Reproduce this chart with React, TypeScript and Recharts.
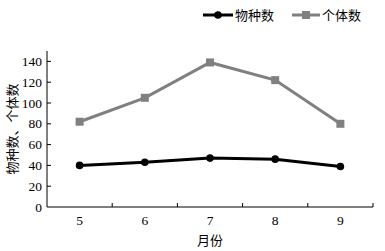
import React from "react";
import { LineChart, Line, XAxis, YAxis, Legend } from "recharts";

const months = ["5", "6", "7", "8", "9"];
const speciesCounts = [40, 43, 47, 46, 39];
const individualCounts = [82, 105, 139, 122, 80];
const yTicks = [0, 20, 40, 60, 80, 100, 120, 140];

const data = months.map((m, i) => ({
  month: m,
  species: speciesCounts[i],
  individuals: individualCounts[i],
}));

const W = 385;
const H = 251;
const LEFT = 47;
const TOP = 27;
const RIGHT = 373;
const BOTTOM = 207;
const BAND = (RIGHT - LEFT) / months.length;
const FONT = '"Liberation Serif", "DejaVu Serif", serif';
const CJK = '"Noto Sans CJK SC", sans-serif';
const GRAY = "#808080";

const XTick = (props: any) => {
  const { x, payload } = props;
  return (
    <g>
      <line x1={x + BAND / 2} x2={x + BAND / 2} y1={BOTTOM} y2={BOTTOM - 4} stroke="#000" strokeWidth={1} />
      <text x={x} y={225} textAnchor="middle" style={{ fontFamily: FONT, fontSize: 13.5 }} fill="#000">
        {payload.value}
      </text>
    </g>
  );
};

const YTick = (props: any) => {
  const { y, payload } = props;
  return (
    <g>
      {payload.value !== 0 && (
        <line x1={LEFT} x2={LEFT + 4} y1={y} y2={y} stroke="#000" strokeWidth={1} />
      )}
      <text x={42} y={y + 4.5} textAnchor="end" style={{ fontFamily: FONT, fontSize: 13.5 }} fill="#000">
        {payload.value}
      </text>
    </g>
  );
};

const SquareDot = (props: any) => {
  const { cx, cy, index } = props;
  return <rect key={`sq-${index}`} x={cx - 4} y={cy - 4} width={8} height={8} fill={GRAY} />;
};

const CircleDot = (props: any) => {
  const { cx, cy, index } = props;
  return <circle key={`ci-${index}`} cx={cx} cy={cy} r={3.8} fill="#000" />;
};

const LegendContent = () => (
  <svg width={W} height={24} style={{ display: "block" }}>
    <line x1={203} x2={233} y1={15} y2={15} stroke="#000" strokeWidth={3} />
    <circle cx={218} cy={15} r={3.8} fill="#000" />
    <text x={235} y={20} style={{ fontFamily: CJK, fontSize: 13 }} fill="#000">物种数</text>
    <line x1={292} x2={320} y1={15} y2={15} stroke={GRAY} strokeWidth={3} />
    <rect x={302} y={11} width={8} height={8} fill={GRAY} />
    <text x={322} y={20} style={{ fontFamily: CJK, fontSize: 13 }} fill="#000">个体数</text>
  </svg>
);

export default function App() {
  return (
    <div style={{ position: "absolute", left: 0, top: 0, width: W, height: H, background: "#fff" }}>
      <LineChart width={W} height={H} data={data} margin={{ top: TOP, right: W - RIGHT, bottom: 0, left: 0 }}>
        <Legend
          verticalAlign="top"
          content={<LegendContent />}
          wrapperStyle={{ position: "absolute", top: 0, left: 0, width: W, height: 24 }}
        />
        <XAxis
          dataKey="month"
          scale="band"
          height={H - BOTTOM}
          axisLine={{ stroke: "#000", strokeWidth: 1 }}
          tickLine={false}
          tick={<XTick />}
          interval={0}
          label={{ value: "月份", position: "insideBottom", offset: 6, fontFamily: CJK, fontSize: 13, fill: "#000" }}
        />
        <YAxis
          width={LEFT}
          domain={[0, 150]}
          ticks={yTicks}
          axisLine={{ stroke: "#000", strokeWidth: 1 }}
          tickLine={false}
          tick={<YTick />}
          interval={0}
          label={{
            value: "物种数、个体数",
            angle: -90,
            position: "insideLeft",
            offset: 12,
            dy: 0,
            fontFamily: CJK,
            fontSize: 13,
            fill: "#000",
            style: { textAnchor: "middle" },
          }}
        />
        <Line
          dataKey="individuals"
          stroke={GRAY}
          strokeWidth={3}
          dot={<SquareDot />}
          isAnimationActive={false}
          legendType="none"
        />
        <Line
          dataKey="species"
          stroke="#000"
          strokeWidth={3}
          dot={<CircleDot />}
          isAnimationActive={false}
          legendType="none"
        />
      </LineChart>
    </div>
  );
}
